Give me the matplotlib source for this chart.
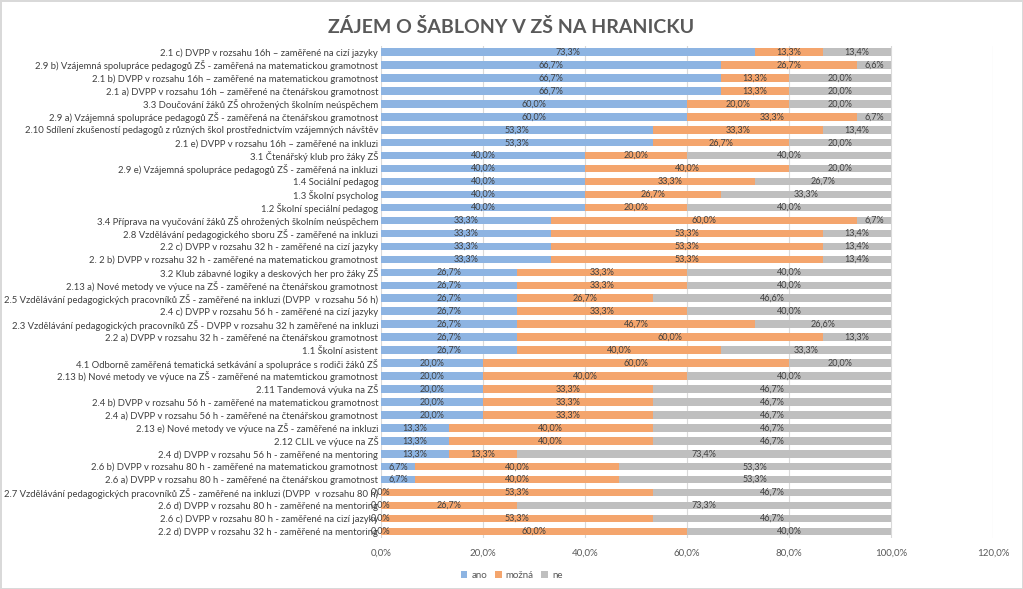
import matplotlib.pyplot as plt
import numpy as np

plt.rcParams['font.family'] = ['Lato', 'DejaVu Sans']

categories = [
    "2.1 c) DVPP v rozsahu 16h – zaměřené na cizí jazyky",
    "2.9 b) Vzájemná spolupráce pedagogů ZŠ - zaměřená na matematickou gramotnost",
    "2.1 b) DVPP v rozsahu 16h – zaměřené na matematickou gramotnost",
    "2.1 a) DVPP v rozsahu 16h – zaměřené na čtenářskou gramotnost",
    "3.3 Doučování žáků ZŠ ohrožených školním neúspěchem",
    "2.9 a) Vzájemná spolupráce pedagogů ZŠ - zaměřená na čtenářskou gramotnost",
    "2.10 Sdílení zkušeností pedagogů z různých škol prostřednictvím vzájemných návštěv",
    "2.1 e) DVPP v rozsahu 16h – zaměřené na inkluzi",
    "3.1 Čtenářský klub pro žáky ZŠ",
    "2.9 e) Vzájemná spolupráce pedagogů ZŠ - zaměřená na inkluzi",
    "1.4 Sociální pedagog",
    "1.3 Školní psycholog",
    "1.2 Školní speciální pedagog",
    "3.4 Příprava na vyučování žáků ZŠ ohrožených školním neúspěchem",
    "2.8 Vzdělávání pedagogického sboru ZŠ - zaměřené na inkluzi",
    "2.2 c) DVPP v rozsahu 32 h - zaměřené na cizí jazyky",
    "2. 2 b) DVPP v rozsahu 32 h - zaměřené na matematickou gramotnost",
    "3.2 Klub zábavné logiky a deskových her pro žáky ZŠ",
    "2.13 a) Nové metody ve výuce na ZŠ - zaměřené na čtenářskou gramotnost",
    "2.5 Vzdělávání pedagogických pracovníků ZŠ - zaměřené na inkluzi (DVPP  v rozsahu 56 h)",
    "2.4 c) DVPP v rozsahu 56 h - zaměřené na cizí jazyky",
    "2.3 Vzdělávání pedagogických pracovníků ZŠ - DVPP v rozsahu 32 h zaměřené na inkluzi",
    "2.2 a) DVPP v rozsahu 32 h - zaměřené na čtenářskou gramotnost",
    "1.1 Školní asistent",
    "4.1 Odborně zaměřená tematická setkávání a spolupráce s rodiči žáků ZŠ",
    "2.13 b) Nové metody ve výuce na ZŠ - zaměřené na matemtickou gramotnost",
    "2.11 Tandemová výuka na ZŠ",
    "2.4 b) DVPP v rozsahu 56 h - zaměřené na matematickou gramotnost",
    "2.4 a) DVPP v rozsahu 56 h - zaměřené na čtenářskou gramotnost",
    "2.13 e) Nové metody ve výuce na ZŠ - zaměřené na inkluzi",
    "2.12 CLIL ve výuce na ZŠ",
    "2.4 d) DVPP v rozsahu 56 h - zaměřené na mentoring",
    "2.6 b) DVPP v rozsahu 80 h - zaměřené na matematickou gramotnost",
    "2.6 a) DVPP v rozsahu 80 h - zaměřené na čtenářskou gramotnost",
    "2.7 Vzdělávání pedagogických pracovníků ZŠ - zaměřené na inkluzi (DVPP  v rozsahu 80 h)",
    "2.6 d) DVPP v rozsahu 80 h - zaměřené na mentoring",
    "2.6 c) DVPP v rozsahu 80 h - zaměřené na cizí jazyky",
    "2.2 d) DVPP v rozsahu 32 h - zaměřené na mentoring",
]

ano = [73.3, 66.7, 66.7, 66.7, 60.0, 60.0, 53.3, 53.3, 40.0, 40.0, 40.0, 40.0, 40.0,
       33.3, 33.3, 33.3, 33.3, 26.7, 26.7, 26.7, 26.7, 26.7, 26.7, 26.7, 20.0, 20.0,
       20.0, 20.0, 20.0, 13.3, 13.3, 13.3, 6.7, 6.7, 0.0, 0.0, 0.0, 0.0]
mozna = [13.3, 26.7, 13.3, 13.3, 20.0, 33.3, 33.3, 26.7, 20.0, 40.0, 33.3, 26.7, 20.0,
         60.0, 53.3, 53.3, 53.3, 33.3, 33.3, 26.7, 33.3, 46.7, 60.0, 40.0, 60.0, 40.0,
         33.3, 33.3, 33.3, 40.0, 40.0, 13.3, 40.0, 40.0, 53.3, 26.7, 53.3, 60.0]
ne = [13.4, 6.6, 20.0, 20.0, 20.0, 6.7, 13.4, 20.0, 40.0, 20.0, 26.7, 33.3, 40.0,
      6.7, 13.4, 13.4, 13.4, 40.0, 40.0, 46.6, 40.0, 26.6, 13.3, 33.3, 20.0, 40.0,
      46.7, 46.7, 46.7, 46.7, 46.7, 73.4, 53.3, 53.3, 46.7, 73.3, 46.7, 40.0]

series = [("ano", ano, "#8db4e2"), ("možná", mozna, "#f4a56d"), ("ne", ne, "#bfbfbf")]

fig = plt.figure(figsize=(10.23, 5.89), dpi=100)
fig.patch.set_edgecolor("#d9d9d9")
fig.patch.set_linewidth(1)
ax = fig.add_axes([0.3724, 0.0866, 0.5983, 0.8361])

y = np.arange(len(categories))
left = np.zeros(len(categories))
for name, vals, col in series:
    vals = np.array(vals)
    ax.barh(y, vals, left=left, height=0.58, color=col, label=name, zorder=2)
    for yi, l, v in zip(y, left, vals):
        ax.text(l + v / 2, yi, f"{v:.1f}%".replace(".", ","), ha="center", va="center",
                fontsize=6.5, color="#404040", zorder=3)
    left = left + vals

ax.set_ylim(len(categories) - 0.5, -0.5)
ax.set_xlim(0, 120)
ax.set_xticks(np.arange(0, 121, 20))
ax.set_xticklabels([f"{t:.1f}%".replace(".", ",") for t in np.arange(0, 121, 20)])
ax.set_yticks(y)
ax.set_yticklabels(categories, fontsize=6.8, color="#404040")
ax.tick_params(axis="x", labelsize=7, colors="#595959", length=0, pad=8)
ax.tick_params(axis="y", length=0, pad=2)
ax.grid(axis="x", color="#d9d9d9", linewidth=0.8, zorder=0)
for s in ax.spines.values():
    s.set_visible(False)

fig.suptitle("ZÁJEM O ŠABLONY V ZŠ NA HRANICKU", x=0.5, y=0.97, fontsize=14,
             fontweight="bold", color="#595959")
fig.legend(loc="lower center", bbox_to_anchor=(0.5, 0.0), ncol=3, frameon=False,
           fontsize=7, handlelength=0.7, handleheight=0.7, columnspacing=0.8,
           handletextpad=0.4, labelcolor="#595959")

fig.savefig("out.png", dpi=100)
